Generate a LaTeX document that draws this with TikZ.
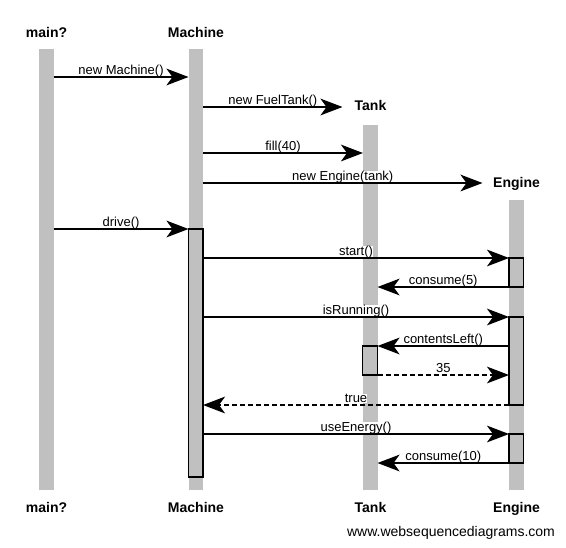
\documentclass[tikz,border=0pt]{standalone}
\usepackage{fontspec}
\setmainfont{Liberation Sans}
\usetikzlibrary{arrows.meta}
\definecolor{lifegray}{RGB}{192,192,192}
\begin{document}
\begin{tikzpicture}[x=0.75pt,y=-0.75pt,
  lifeline/.style={fill=lifegray, draw=none},
  actbox/.style={fill=lifegray, draw=black, line width=0.9pt},
  msg/.style={line width=1.5pt, -{Stealth[length=16.5pt,width=12.5pt,inset=4.5pt]}},
  ret/.style={msg, dash pattern=on 3.75pt off 2.25pt},
  lbl/.style={font=\fontsize{9.75pt}{11pt}\selectfont, fill=white, inner sep=0pt, anchor=base, yshift=1.9pt},
  head/.style={font=\fontsize{10.5pt}{12pt}\selectfont\bfseries, inner sep=0pt, anchor=base},
  foot/.style={font=\fontsize{10.5pt}{12pt}\selectfont, inner sep=0pt, anchor=base},
]
\useasboundingbox (0,0) rectangle (566,547);
\fill[white] (0,0) rectangle (566,547);

% lifelines
\fill[lifeline] (39,49) rectangle (53.5,490);
\fill[lifeline] (188.5,49) rectangle (203,490);
\fill[lifeline] (363,124.5) rectangle (377.5,490);
\fill[lifeline] (509,200) rectangle (523.5,490);

% headers
\node[head] (mainT) at (46.5,37.3) {main?};
\node[head] (machT) at (196,37.3) {Machine};
\node[head] (tankT) at (370.5,110.7) {Tank};
\node[head] (engT) at (516.5,187.7) {Engine};
\node[head] (mainB) at (46.5,512) {main?};
\node[head] (machB) at (196,512) {Machine};
\node[head] (tankB) at (370.5,512) {Tank};
\node[head] (engB) at (516.5,512) {Engine};
\node[foot] (footer) at (451,536) {www.websequencediagrams.com};

% activation boxes
\path[actbox] (188.5,229) rectangle (203,477);
\path[actbox] (509,258) rectangle (523.5,287);
\path[actbox] (509,317) rectangle (523.5,405);
\path[actbox] (509,434) rectangle (523.5,463);
\path[actbox] (362.5,346) rectangle (377.5,375);

% message end points
\coordinate (m1s) at (53.5,77);   \coordinate (m1e) at (188.5,77);
\coordinate (m2s) at (203,107);   \coordinate (m2e) at (342.5,107);
\coordinate (m3s) at (203,153);   \coordinate (m3e) at (363,153);
\coordinate (m4s) at (203,183);   \coordinate (m4e) at (482.5,183);
\coordinate (m5s) at (53.5,229);  \coordinate (m5e) at (188.5,229);
\coordinate (m6s) at (203,258);   \coordinate (m6e) at (509,258);
\coordinate (m7s) at (509,287);   \coordinate (m7e) at (377.5,287);
\coordinate (m8s) at (203,317);   \coordinate (m8e) at (509,317);
\coordinate (m9s) at (509,346);   \coordinate (m9e) at (377.5,346);
\coordinate (m10s) at (377.5,375); \coordinate (m10e) at (509,375);
\coordinate (m11s) at (509,405);  \coordinate (m11e) at (203,405);
\coordinate (m12s) at (203,434);  \coordinate (m12e) at (509,434);
\coordinate (m13s) at (509,463);  \coordinate (m13e) at (377.5,463);

% labels
\path (m1s) -- (m1e) node[lbl, midway] (l1) {new Machine()};
\path (m2s) -- (m2e) node[lbl, midway] (l2) {new FuelTank()};
\path (m3s) -- (m3e) node[lbl, midway] (l3) {fill(40)};
\path (m4s) -- (m4e) node[lbl, midway] (l4) {new Engine(tank)};
\path (m5s) -- (m5e) node[lbl, midway] (l5) {drive()};
\path (m6s) -- (m6e) node[lbl, midway] (l6) {start()};
\path (m7s) -- (m7e) node[lbl, midway] (l7) {consume(5)};
\path (m8s) -- (m8e) node[lbl, midway] (l8) {isRunning()};
\path (m9s) -- (m9e) node[lbl, midway] (l9) {contentsLeft()};
\path (m10s) -- (m10e) node[lbl, midway] (l10) {35};
\path (m11s) -- (m11e) node[lbl, midway] (l11) {true};
\path (m12s) -- (m12e) node[lbl, midway] (l12) {useEnergy()};
\path (m13s) -- (m13e) node[lbl, midway] (l13) {consume(10)};

% messages
\draw[msg] (m1s) -- (m1e);
\draw[msg] (m2s) -- (m2e);
\draw[msg] (m3s) -- (m3e);
\draw[msg] (m4s) -- (m4e);
\draw[msg] (m5s) -- (m5e);
\draw[msg] (m6s) -- (m6e);
\draw[msg] (m7s) -- (m7e);
\draw[msg] (m8s) -- (m8e);
\draw[msg] (m9s) -- (m9e);
\draw[ret] (m10s) -- (m10e);
\draw[ret] (m11s) -- (m11e);
\draw[msg] (m12s) -- (m12e);
\draw[msg] (m13s) -- (m13e);
\end{tikzpicture}
\end{document}
